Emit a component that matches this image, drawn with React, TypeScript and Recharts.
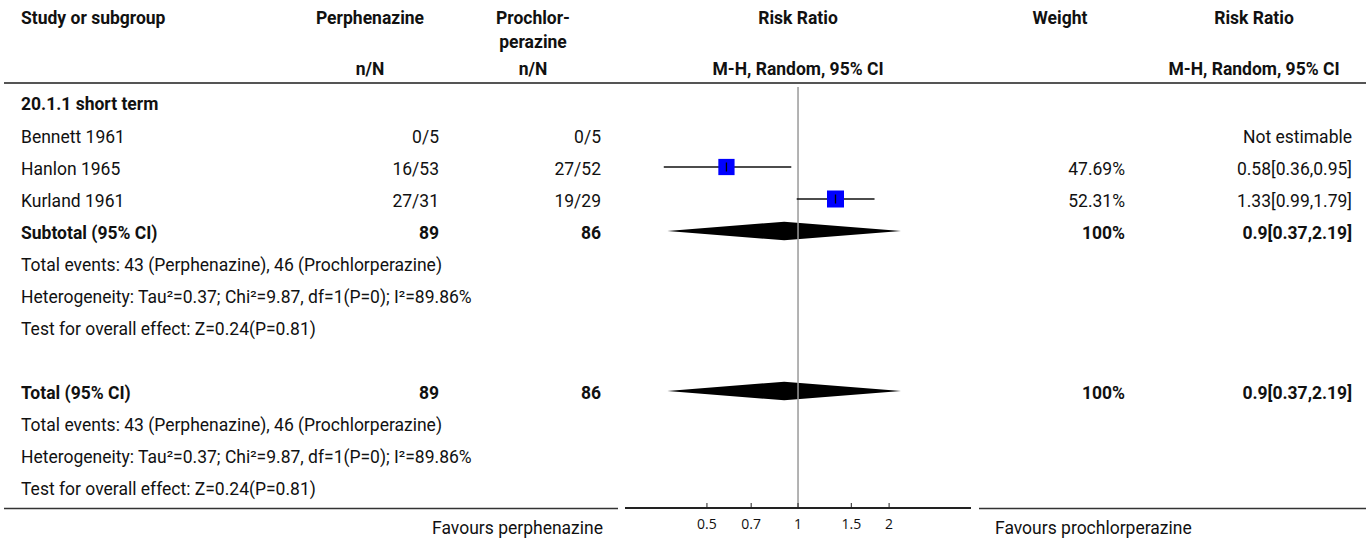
import React from 'react';
import { ComposedChart, XAxis, YAxis, Scatter, Line, Area, ReferenceLine } from 'recharts';

// ---------- data ----------
const SUBGROUP = '20.1.1 short term';
const studies = ['Bennett 1961', 'Hanlon 1965', 'Kurland 1961'];
const expEvents = ['0/5', '16/53', '27/31'];
const ctrlEvents = ['0/5', '27/52', '19/29'];
const estimates: (number | null)[] = [null, 0.58, 1.33];
const lowerCI: (number | null)[] = [null, 0.36, 0.99];
const upperCI: (number | null)[] = [null, 0.95, 1.79];
const weights: (number | null)[] = [null, 47.69, 52.31];
const weightLabels = ['', '47.69%', '52.31%'];
const rrLabels = ['Not estimable', '0.58[0.36,0.95]', '1.33[0.99,1.79]'];

const pooledEst = 0.9;
const pooledLow = 0.37;
const pooledHigh = 2.19;
const expTotal = '89';
const ctrlTotal = '86';
const pooledWeight = '100%';
const pooledLabel = '0.9[0.37,2.19]';

const TOTAL_EVENTS = 'Total events: 43 (Perphenazine), 46 (Prochlorperazine)';
const HETEROGENEITY = 'Heterogeneity: Tau\u00B2=0.37; Chi\u00B2=9.87, df=1(P=0); I\u00B2=89.86%';
const OVERALL = 'Test for overall effect: Z=0.24(P=0.81)';

const X_TICKS = [0.5, 0.7, 1, 1.5, 2];
const X_DOMAIN = [0.268, 3.73];
const FAVOURS_LEFT = 'Favours perphenazine';
const FAVOURS_RIGHT = 'Favours prochlorperazine';

// ---------- layout ----------
const W = 1370;
const H = 540;
const ROW0 = 103;
const ROW_H = 32;
const PLOT_TOP = 87;
const PLOT_BOTTOM = 508;
const PLOT_LEFT = 625;
const PLOT_RIGHT = 971;
const Y_DOMAIN = [-0.5, (PLOT_BOTTOM - ROW0) / ROW_H];
const DIAMOND_HALF = 0.29;

const SUBTOTAL_ROW = 4;
const TOTAL_ROW = 9;

const FONT = 'Roboto, "Noto Sans", sans-serif';
const FS = 17.5;
const TXT = '#111';

const rowY = (i: number) => ROW0 + ROW_H * i;

const squareData = estimates
  .map((e, i) => (e == null ? null : { x: e, y: i + 1, w: weights[i] as number }))
  .filter(Boolean) as { x: number; y: number; w: number }[];

const ciData = estimates
  .map((e, i) =>
    e == null
      ? null
      : [
          { x: lowerCI[i] as number, y: i + 1 },
          { x: upperCI[i] as number, y: i + 1 },
        ]
  )
  .filter(Boolean) as { x: number; y: number }[][];

const diamond = (row: number) => [
  { x: pooledLow, band: [row, row] },
  { x: pooledEst, band: [row - DIAMOND_HALF, row + DIAMOND_HALF] },
  { x: pooledHigh, band: [row, row] },
];

const Square = (props: any) => {
  const { cx, cy, payload } = props;
  if (cx == null || cy == null) return <g />;
  const s = 2.35 * Math.sqrt(payload.w);
  return (
    <g>
      <rect x={cx - s / 2} y={cy - s / 2} width={s} height={s} fill="#0000ff" />
      <line x1={cx} x2={cx} y1={cy - 4.5} y2={cy + 4.5} stroke="#000" strokeWidth={1.3} />
    </g>
  );
};

const AxisTick = (props: any) => {
  const { x, y, payload } = props;
  return (
    <g>
      <line x1={x} x2={x} y1={y - 5} y2={y} stroke="#222" strokeWidth={1} />
      <text
        x={x}
        y={y + 21}
        textAnchor="middle"
        fontFamily='"Open Sans", sans-serif'
        fontSize={14}
        fill={TXT}
      >
        {payload.value}
      </text>
    </g>
  );
};

const T = (p: {
  x: number;
  y: number;
  anchor?: 'start' | 'middle' | 'end';
  bold?: boolean;
  children: React.ReactNode;
}) => (
  <text
    x={p.x}
    y={p.y}
    textAnchor={p.anchor || 'start'}
    fontFamily={FONT}
    fontSize={FS}
    fontWeight={p.bold ? 700 : 400}
    fill={TXT}
  >
    {p.children}
  </text>
);

const COL_STUDY = 21;
const COL_EXP_C = 370;
const COL_EXP_R = 439;
const COL_CTRL_C = 533;
const COL_CTRL_R = 601;
const COL_RR_C = 798;
const COL_W_C = 1060;
const COL_W_R = 1125;
const COL_RR2_C = 1254;
const COL_RR2_R = 1352;
const BL = 8; // baseline offset from row center

const Table = () => {
  const summary = (start: number, bold: string, eTot: string, cTot: string) => (
    <g>
      <T x={COL_STUDY} y={rowY(start) + BL} bold>{bold}</T>
      <T x={COL_EXP_R} y={rowY(start) + BL} anchor="end" bold>{eTot}</T>
      <T x={COL_CTRL_R} y={rowY(start) + BL} anchor="end" bold>{cTot}</T>
      <T x={COL_W_R} y={rowY(start) + BL} anchor="end" bold>{pooledWeight}</T>
      <T x={COL_RR2_R} y={rowY(start) + BL} anchor="end" bold>{pooledLabel}</T>
      <T x={COL_STUDY} y={rowY(start + 1) + BL}>{TOTAL_EVENTS}</T>
      <T x={COL_STUDY} y={rowY(start + 2) + BL}>{HETEROGENEITY}</T>
      <T x={COL_STUDY} y={rowY(start + 3) + BL}>{OVERALL}</T>
    </g>
  );
  return (
    <svg
      width={W}
      height={H}
      style={{ position: 'absolute', left: 0, top: 0, pointerEvents: 'none' }}
    >
      {/* headers */}
      <T x={COL_STUDY} y={24} bold>Study or subgroup</T>
      <T x={COL_EXP_C} y={24} anchor="middle" bold>Perphenazine</T>
      <T x={COL_CTRL_C} y={24} anchor="middle" bold>Prochlor-</T>
      <T x={COL_CTRL_C} y={48} anchor="middle" bold>perazine</T>
      <T x={COL_RR_C} y={24} anchor="middle" bold>Risk Ratio</T>
      <T x={COL_W_C} y={24} anchor="middle" bold>Weight</T>
      <T x={COL_RR2_C} y={24} anchor="middle" bold>Risk Ratio</T>
      <T x={COL_EXP_C} y={75} anchor="middle" bold>n/N</T>
      <T x={COL_CTRL_C} y={75} anchor="middle" bold>n/N</T>
      <T x={COL_RR_C} y={75} anchor="middle" bold>M-H, Random, 95% CI</T>
      <T x={COL_RR2_C} y={75} anchor="middle" bold>M-H, Random, 95% CI</T>
      <line x1={4} x2={1366} y1={83} y2={83} stroke="#555" strokeWidth={2} />

      <T x={COL_STUDY} y={rowY(0) + 6.5} bold>{SUBGROUP}</T>
      {studies.map((s, i) => (
        <g key={s}>
          <T x={COL_STUDY} y={rowY(i + 1) + BL}>{s}</T>
          <T x={COL_EXP_R} y={rowY(i + 1) + BL} anchor="end">{expEvents[i]}</T>
          <T x={COL_CTRL_R} y={rowY(i + 1) + BL} anchor="end">{ctrlEvents[i]}</T>
          <T x={COL_W_R} y={rowY(i + 1) + BL} anchor="end">{weightLabels[i]}</T>
          <T x={COL_RR2_R} y={rowY(i + 1) + BL} anchor="end">{rrLabels[i]}</T>
        </g>
      ))}
      {summary(SUBTOTAL_ROW, 'Subtotal (95% CI)', expTotal, ctrlTotal)}
      {summary(TOTAL_ROW, 'Total (95% CI)', expTotal, ctrlTotal)}

      <line x1={4} x2={618} y1={508.5} y2={508.5} stroke="#333" strokeWidth={1.5} />
      <line x1={979} x2={1366} y1={508.5} y2={508.5} stroke="#333" strokeWidth={1.5} />
      <T x={603} y={534} anchor="end">{FAVOURS_LEFT}</T>
      <T x={995} y={534}>{FAVOURS_RIGHT}</T>
    </svg>
  );
};

export default function App() {
  return (
    <div
      style={{
        position: 'absolute',
        left: 0,
        top: 0,
        width: W,
        height: H,
        background: '#fff',
        overflow: 'hidden',
      }}
    >
      <ComposedChart
        width={W}
        height={H}
        margin={{ top: PLOT_TOP, bottom: 0, left: PLOT_LEFT, right: W - PLOT_RIGHT }}
      >
        <XAxis
          type="number"
          dataKey="x"
          scale="log"
          domain={X_DOMAIN}
          allowDataOverflow
          ticks={X_TICKS}
          interval={0}
          tick={<AxisTick />}
          tickLine={false}
          tickSize={0}
          tickMargin={0}
          axisLine={{ stroke: '#222', strokeWidth: 2 }}
          height={H - PLOT_BOTTOM}
        />
        <YAxis
          type="number"
          dataKey="y"
          domain={Y_DOMAIN}
          allowDataOverflow
          reversed
          hide
          width={0}
        />
        <ReferenceLine x={1} stroke="#9a9a9a" strokeWidth={1.5} />
        <Area
          data={diamond(SUBTOTAL_ROW)}
          dataKey="band"
          type="linear"
          fill="#000"
          fillOpacity={1}
          stroke="none"
          isAnimationActive={false}
          activeDot={false}
        />
        <Area
          data={diamond(TOTAL_ROW)}
          dataKey="band"
          type="linear"
          fill="#000"
          fillOpacity={1}
          stroke="none"
          isAnimationActive={false}
          activeDot={false}
        />
        {ciData.map((d, i) => (
          <Line
            key={'ci' + i}
            data={d}
            dataKey="y"
            stroke="#111"
            strokeWidth={1.5}
            dot={false}
            activeDot={false}
            isAnimationActive={false}
          />
        ))}
        <Scatter data={squareData} shape={<Square />} isAnimationActive={false} />
      </ComposedChart>
      <Table />
    </div>
  );
}
